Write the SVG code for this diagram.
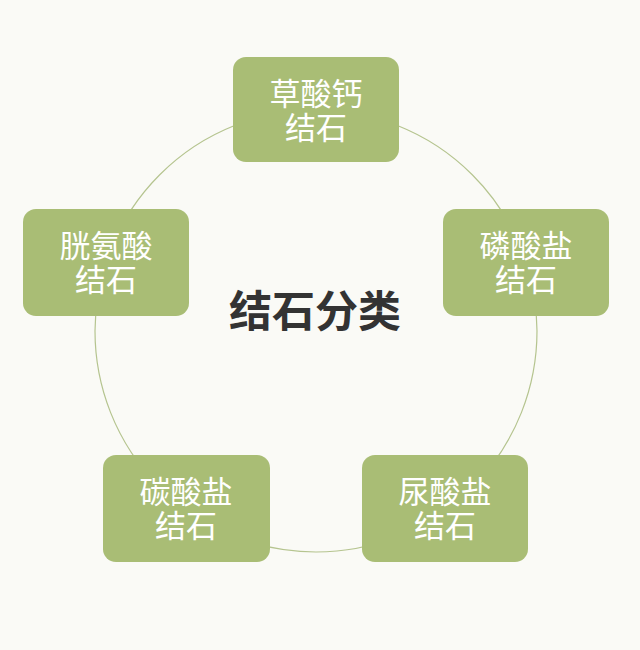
<svg xmlns="http://www.w3.org/2000/svg" width="640" height="650" viewBox="0 0 640 650">
<style>
.node rect{fill:#A9BD75;}
.node text{fill:#FFFFFF;font-family:"Noto Sans CJK SC","Noto Sans",sans-serif;font-size:31px;text-anchor:middle;}
.title{fill:#333333;font-family:"Noto Sans CJK SC","Noto Sans",sans-serif;font-size:43px;font-weight:bold;text-anchor:middle;}
</style>
<rect x="0" y="0" width="640" height="650" fill="#FAFAF6"/>
<g id="connectors">
<circle cx="316" cy="331" r="221" fill="none" stroke="#B5C48F" stroke-width="1.2"/>
</g>
<g id="center">
<text class="title" x="315" y="327">结石分类</text>
</g>
<g id="node-top" class="node">
<rect x="233" y="57" width="166" height="105" rx="13"/>
<text x="316" y="105"><tspan x="316">草酸钙</tspan><tspan x="316" dy="34">结石</tspan></text>
</g>
<g id="node-right" class="node">
<rect x="443" y="209" width="166" height="107" rx="13"/>
<text x="526" y="257"><tspan x="526">磷酸盐</tspan><tspan x="526" dy="34">结石</tspan></text>
</g>
<g id="node-bottom-right" class="node">
<rect x="362" y="455" width="166" height="107" rx="13"/>
<text x="445" y="503"><tspan x="445">尿酸盐</tspan><tspan x="445" dy="34">结石</tspan></text>
</g>
<g id="node-bottom-left" class="node">
<rect x="103" y="455" width="167" height="107" rx="13"/>
<text x="186" y="503"><tspan x="186">碳酸盐</tspan><tspan x="186" dy="34">结石</tspan></text>
</g>
<g id="node-left" class="node">
<rect x="23" y="209" width="166" height="107" rx="13"/>
<text x="106" y="257"><tspan x="106">胱氨酸</tspan><tspan x="106" dy="34">结石</tspan></text>
</g>
</svg>
